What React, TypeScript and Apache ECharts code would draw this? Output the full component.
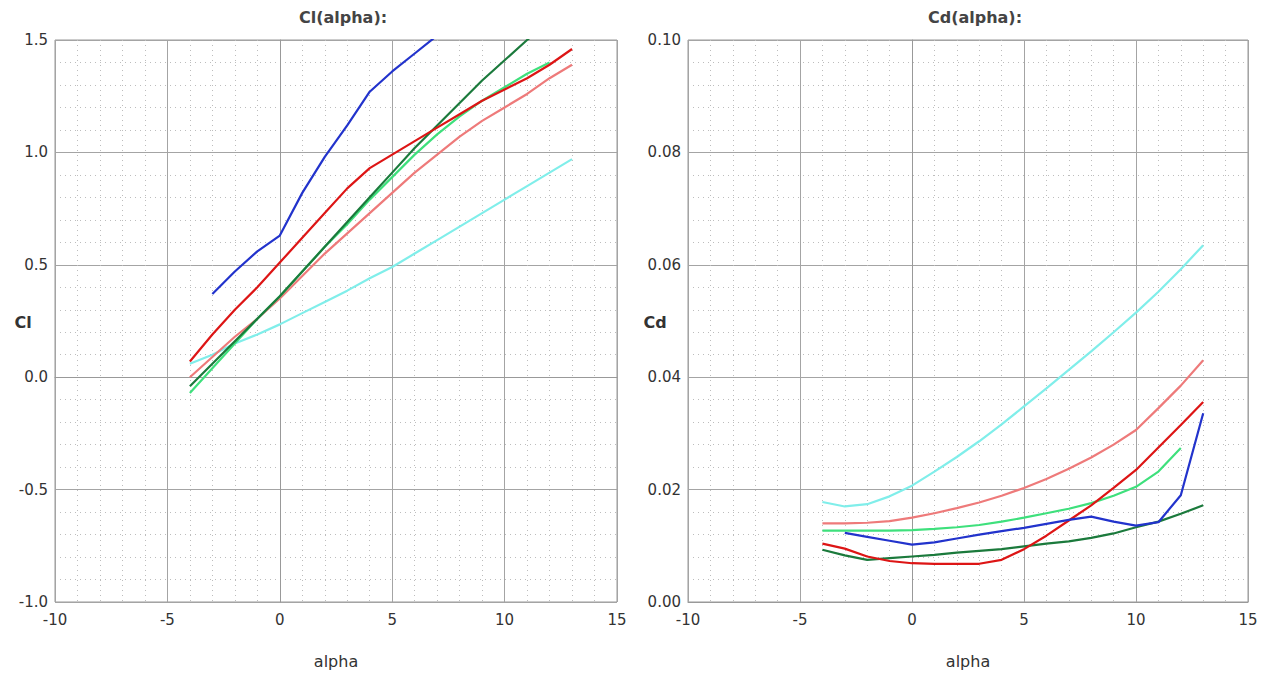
import React, { useEffect, useRef } from "react";
import * as echarts from "echarts";

const alphaFull = [-4, -3, -2, -1, 0, 1, 2, 3, 4, 5, 6, 7, 8, 9, 10, 11, 12, 13];
const alphaBlueCl = [-3, -2, -1, 0, 1, 2, 3, 4, 5, 6, 7];
const alphaBlueCd = [-3, -2, -1, 0, 1, 2, 3, 4, 5, 6, 7, 8, 9, 10, 11, 12, 13];
const alphaDarkGreenCl = [-4, -3, -2, -1, 0, 1, 2, 3, 4, 5, 6, 7, 8, 9, 10, 11, 12];
const alphaBrightGreen = [-4, -3, -2, -1, 0, 1, 2, 3, 4, 5, 6, 7, 8, 9, 10, 11, 12];

// Cl values
const clBlue = [0.37, 0.47, 0.56, 0.63, 0.82, 0.98, 1.12, 1.27, 1.36, 1.44, 1.52];
const clRed = [0.07, 0.19, 0.3, 0.4, 0.51, 0.62, 0.73, 0.84, 0.93, 0.99, 1.05, 1.11, 1.17, 1.23, 1.28, 1.33, 1.39, 1.46];
const clDarkGreen = [-0.04, 0.06, 0.16, 0.26, 0.36, 0.47, 0.58, 0.69, 0.8, 0.91, 1.02, 1.12, 1.22, 1.32, 1.41, 1.5, 1.58];
const clBrightGreen = [-0.07, 0.04, 0.15, 0.26, 0.36, 0.47, 0.58, 0.68, 0.79, 0.89, 0.99, 1.08, 1.16, 1.23, 1.29, 1.35, 1.4];
const clPink = [0.0, 0.09, 0.18, 0.26, 0.35, 0.45, 0.55, 0.64, 0.73, 0.82, 0.91, 0.99, 1.07, 1.14, 1.2, 1.26, 1.33, 1.39];
const clCyan = [0.06, 0.1, 0.15, 0.19, 0.235, 0.285, 0.335, 0.385, 0.44, 0.49, 0.55, 0.61, 0.67, 0.73, 0.79, 0.85, 0.91, 0.97];

// Cd values
const cdBlue = [0.0123, 0.0116, 0.0109, 0.0102, 0.0106, 0.0113, 0.012, 0.0126, 0.0132, 0.0139, 0.0146, 0.0152, 0.0143, 0.0136, 0.0142, 0.019, 0.0336];
const cdRed = [0.0104, 0.0095, 0.0081, 0.0073, 0.0069, 0.0068, 0.0068, 0.0068, 0.0075, 0.0094, 0.0118, 0.0145, 0.0172, 0.0203, 0.0235, 0.0275, 0.0315, 0.0356];
const cdDarkGreen = [0.0093, 0.0083, 0.0075, 0.0078, 0.0081, 0.0084, 0.0088, 0.0091, 0.0094, 0.0099, 0.0104, 0.0108, 0.0114, 0.0122, 0.0133, 0.0143, 0.0157, 0.0172];
const cdBrightGreen = [0.0127, 0.0127, 0.0127, 0.0127, 0.0128, 0.013, 0.0133, 0.0137, 0.0143, 0.015, 0.0158, 0.0166, 0.0176, 0.0189, 0.0205, 0.0232, 0.0274];
const cdPink = [0.014, 0.014, 0.0141, 0.0144, 0.015, 0.0158, 0.0167, 0.0177, 0.0189, 0.0203, 0.0219, 0.0237, 0.0257, 0.028, 0.0306, 0.0345, 0.0385, 0.043];
const cdCyan = [0.0178, 0.017, 0.0174, 0.0188, 0.0207, 0.0232, 0.0258, 0.0286, 0.0316, 0.0348, 0.038, 0.0413, 0.0446, 0.048, 0.0515, 0.0552, 0.0592, 0.0635];

const COLORS = {
  blue: "#2233cc",
  red: "#dd1515",
  darkGreen: "#1b7a3c",
  brightGreen: "#3ee07c",
  pink: "#ee7a7a",
  cyan: "#80eeea",
};

const FONT = "'DejaVu Sans', sans-serif";

function pairs(xs: number[], ys: number[]) {
  return ys.map((y, i) => [xs[i], y]);
}

function lineSeries(name: string, color: string, data: number[][], idx: number) {
  return {
    name,
    type: "line",
    xAxisIndex: idx,
    yAxisIndex: idx,
    data,
    showSymbol: false,
    symbol: "none",
    clip: true,
    lineStyle: { color, width: 2.2 },
    itemStyle: { color },
  };
}

export default function App() {
  const ref = useRef<HTMLDivElement>(null);
  useEffect(() => {
    if (!ref.current) return;
    const chart = echarts.init(ref.current, undefined, { renderer: "svg" });
    const minorLine = { show: true, lineStyle: { color: "#bdbdbd", type: [1, 4], width: 1 } };
    const xAxisBase = (gridIndex: number) => ({
      type: "value",
      gridIndex,
      min: -10,
      max: 15,
      interval: 5,
      name: "alpha",
      nameLocation: "middle",
      nameGap: 51,
      nameTextStyle: { fontSize: 16, color: "#333", fontFamily: FONT },
      axisLine: { show: true, lineStyle: { color: "#999" } },
      axisTick: { show: false },
      axisLabel: { fontSize: 15, color: "#333", margin: 10, fontFamily: FONT },
      splitLine: { show: true, lineStyle: { color: "#a4a4a4", width: 1 } },
      minorTick: { show: false, splitNumber: 5 },
      minorSplitLine: minorLine,
    });
    const yAxisBase = (gridIndex: number, min: number, max: number, interval: number, digits: number) => ({
      type: "value",
      gridIndex,
      min,
      max,
      interval,
      axisLine: { show: true, lineStyle: { color: "#999" } },
      axisTick: { show: false },
      axisLabel: {
        fontSize: 15,
        color: "#333",
        margin: 7,
        fontFamily: FONT,
        formatter: (v: number) => v.toFixed(digits),
      },
      splitLine: { show: true, lineStyle: { color: "#a4a4a4", width: 1 } },
      minorTick: { show: false, splitNumber: 5 },
      minorSplitLine: minorLine,
    });
    const nameStyle = { fontSize: 16, fontWeight: "bold", fill: "#333", fontFamily: FONT, textAlign: "center", textVerticalAlign: "middle" };
    chart.setOption({
      animation: false,
      backgroundColor: "#ffffff",
      textStyle: { fontFamily: FONT },
      title: [
        {
          text: "Cl(alpha):",
          left: 338,
          top: 4,
          textAlign: "center",
          textStyle: { fontSize: 16, fontWeight: "bold", color: "#444", fontFamily: FONT },
        },
        {
          text: "Cd(alpha):",
          left: 970,
          top: 4,
          textAlign: "center",
          textStyle: { fontSize: 16, fontWeight: "bold", color: "#444", fontFamily: FONT },
        },
      ],
      graphic: [
        { type: "text", x: 23, y: 322, style: { text: "Cl", ...nameStyle } },
        { type: "text", x: 655, y: 322, style: { text: "Cd", ...nameStyle } },
      ],
      grid: [
        { left: 55, top: 40, width: 562, height: 562, show: true, borderColor: "#999", borderWidth: 1 },
        { left: 688, top: 40, width: 560, height: 562, show: true, borderColor: "#999", borderWidth: 1 },
      ],
      xAxis: [xAxisBase(0), xAxisBase(1)],
      yAxis: [
        yAxisBase(0, -1, 1.5, 0.5, 1),
        yAxisBase(1, 0, 0.1, 0.02, 2),
      ],
      series: [
        lineSeries("cyan", COLORS.cyan, pairs(alphaFull, clCyan), 0),
        lineSeries("pink", COLORS.pink, pairs(alphaFull, clPink), 0),
        lineSeries("brightGreen", COLORS.brightGreen, pairs(alphaBrightGreen, clBrightGreen), 0),
        lineSeries("darkGreen", COLORS.darkGreen, pairs(alphaDarkGreenCl, clDarkGreen), 0),
        lineSeries("red", COLORS.red, pairs(alphaFull, clRed), 0),
        lineSeries("blue", COLORS.blue, pairs(alphaBlueCl, clBlue), 0),
        lineSeries("cyan", COLORS.cyan, pairs(alphaFull, cdCyan), 1),
        lineSeries("pink", COLORS.pink, pairs(alphaFull, cdPink), 1),
        lineSeries("brightGreen", COLORS.brightGreen, pairs(alphaBrightGreen, cdBrightGreen), 1),
        lineSeries("darkGreen", COLORS.darkGreen, pairs(alphaFull, cdDarkGreen), 1),
        lineSeries("red", COLORS.red, pairs(alphaFull, cdRed), 1),
        lineSeries("blue", COLORS.blue, pairs(alphaBlueCd, cdBlue), 1),
      ],
    });
    return () => chart.dispose();
  }, []);
  return (
    <div
      ref={ref}
      style={{ position: "absolute", left: 0, top: 0, width: 1266, height: 674, background: "#fff" }}
    />
  );
}
